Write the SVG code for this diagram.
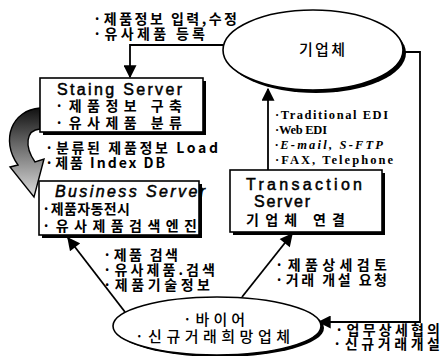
<svg xmlns="http://www.w3.org/2000/svg" width="441" height="356" viewBox="0 0 441 356">
<defs>
<style>
.k{font-family:"Noto Sans CJK KR","Noto Sans",sans-serif;font-weight:700;font-size:14px;fill:#000}
.n{font-weight:500;font-size:15px}
.l{font-family:"Liberation Sans",Arial,sans-serif;font-size:16px;fill:#000;stroke:#000;stroke-width:0.5}
.s{font-family:"Liberation Serif","Times New Roman",serif;font-weight:700;font-size:12.5px;fill:#000}
.box{fill:#fff;stroke:#000;stroke-width:1.6}
.sh{fill:#000}
.ln{fill:none;stroke:#000;stroke-width:1.8}
</style>
<marker id="ah" viewBox="0 0 10 10" refX="9" refY="5" markerWidth="14" markerHeight="13" orient="auto" markerUnits="userSpaceOnUse">
<path d="M0,0 L10,5 L0,10 z" fill="#000"/>
</marker>
<linearGradient id="gr" x1="0" y1="0" x2="0" y2="1">
<stop offset="0" stop-color="#111"/>
<stop offset="0.4" stop-color="#666"/>
<stop offset="1" stop-color="#ddd"/>
</linearGradient>
</defs>
<rect width="441" height="356" fill="#fff"/>

<g id="connectors">
<path class="ln" d="M223,45 H130 V77" marker-end="url(#ah)"/>
<path class="ln" d="M268,170 V89" marker-end="url(#ah)"/>
<path class="ln" d="M403,52 H420 V322 H319" marker-end="url(#ah)"/>
<path class="ln" d="M125,312 L68,238" marker-end="url(#ah)"/>
<path class="ln" d="M242,297 L292,234" marker-end="url(#ah)"/>
<path d="M40,108 C12,110 0,140 18,165 L10,167 L34,197 L44,159 L35,162 C24,146 26,130 40,129 Z" fill="url(#gr)" stroke="#000" stroke-width="1.4"/>
</g>

<g id="label-top">
<text class="k" x="93" y="24" textLength="144" lengthAdjust="spacing">·제품정보 입력,수정</text>
<text class="k" x="93" y="39" textLength="112" lengthAdjust="spacing">·유사제품 등록</text>
</g>

<g id="company">
<ellipse cx="316" cy="53" rx="90" ry="40" class="sh"/>
<ellipse cx="313" cy="50" rx="90" ry="40" class="box"/>
<text class="k n" x="299" y="55" textLength="46" lengthAdjust="spacing">기업체</text>
</g>

<g id="staing">
<rect x="43" y="81" width="163" height="54" class="sh"/>
<rect x="40" y="78" width="163" height="54" class="box"/>
<text class="l" x="57" y="95" textLength="125" lengthAdjust="spacing">Staing Server</text>
<text class="k" x="55" y="111" textLength="127" lengthAdjust="spacing">·제품정보 구축</text>
<text class="k" x="55" y="128" textLength="127" lengthAdjust="spacing">·유사제품 분류</text>
</g>

<g id="label-load">
<text class="k" x="45" y="153" textLength="173" lengthAdjust="spacing">·분류된 제품정보 Load</text>
<text class="k" x="45" y="168" textLength="120" lengthAdjust="spacing">·제품 Index DB</text>
</g>

<g id="business">
<rect x="42" y="184" width="160" height="54" class="sh"/>
<rect x="39" y="181" width="160" height="54" class="box"/>
<text class="l" x="55" y="197" textLength="150" lengthAdjust="spacing" style="font-style:italic">Business Server</text>
<text class="k" x="42" y="214" textLength="88" lengthAdjust="spacing">·제품자동전시</text>
<text class="k" x="42" y="231" textLength="155" lengthAdjust="spacing">·유사제품검색엔진</text>
</g>

<g id="label-edi">
<text class="s" x="275" y="119" textLength="113" lengthAdjust="spacing">·Traditional EDI</text>
<text class="s" x="275" y="134" textLength="52" lengthAdjust="spacing">·Web EDI</text>
<text class="s" x="275" y="149" textLength="108" lengthAdjust="spacing" style="font-style:italic">·E-mail,  S-FTP</text>
<text class="s" x="275" y="164" textLength="118" lengthAdjust="spacing">·FAX, Telephone</text>
</g>

<g id="transaction">
<rect x="233" y="173" width="152" height="62" class="sh"/>
<rect x="230" y="170" width="152" height="62" class="box"/>
<text class="l" x="246" y="190" textLength="116" lengthAdjust="spacing">Transaction</text>
<text class="l" x="254" y="207" textLength="56" lengthAdjust="spacing">Server</text>
<text class="k" x="246" y="225" textLength="99" lengthAdjust="spacing">기업체 연결</text>
</g>

<g id="label-search">
<text class="k" x="103" y="260" textLength="75" lengthAdjust="spacing">·제품 검색</text>
<text class="k" x="103" y="275" textLength="112" lengthAdjust="spacing">·유사제품.검색</text>
<text class="k" x="103" y="290" textLength="107" lengthAdjust="spacing">·제품기술정보</text>
</g>

<g id="label-request">
<text class="k" x="275" y="270" textLength="112" lengthAdjust="spacing">·제품상세검토</text>
<text class="k" x="275" y="285" textLength="112" lengthAdjust="spacing">·거래 개설 요청</text>
</g>

<g id="buyer">
<ellipse cx="220" cy="328" rx="104" ry="29" class="sh"/>
<ellipse cx="217" cy="326" rx="104" ry="29" class="box"/>
<text class="k n" x="183" y="325" textLength="62" lengthAdjust="spacing">·바이어</text>
<text class="k n" x="135" y="342" textLength="155" lengthAdjust="spacing">·신규거래희망업체</text>
</g>

<g id="label-negotiate">
<text class="k" x="335" y="335" textLength="105" lengthAdjust="spacing">·업무상세협의</text>
<text class="k" x="333" y="349" textLength="107" lengthAdjust="spacing">·신규거래개설</text>
</g>
</svg>
